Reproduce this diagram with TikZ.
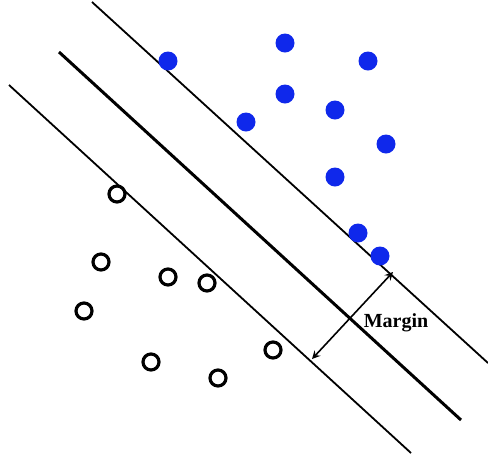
\documentclass[tikz,border=0pt]{standalone}
\usepackage{fontspec}
\setmainfont{Liberation Serif}
\usepackage{xcolor}
\definecolor{ptblue}{RGB}{15, 40, 235}

\tikzset{
	posdot/.style={circle, fill=ptblue, inner sep=0pt, minimum size=9.5pt},
	negdot/.style={circle, draw=black, line width=1.6pt, inner sep=0pt, minimum size=8pt},
}

\begin{document}
\begin{tikzpicture}[x=0.5pt, y=-0.5pt]
		\useasboundingbox (0,0) rectangle (488,462);
		
		% Hiperplanos
		\coordinate (u1) at (92,2);
		\coordinate (u2) at (488,363);
		\coordinate (h1) at (59,52);
		\coordinate (h2) at (461,420);
		\coordinate (l1) at (9,85);
		\coordinate (l2) at (411,453);
		\draw[line width=0.9pt] (u1) -- (u2);
		\draw[line width=1.5pt] (h1) -- (h2);
		\draw[line width=0.9pt] (l1) -- (l2);
		
		% Clase positiva
		\node[posdot] (p1) at (168,61) {};
		\node[posdot] (p2) at (285,43) {};
		\node[posdot] (p3) at (368,61) {};
		\node[posdot] (p4) at (285,94) {};
		\node[posdot] (p5) at (335,110) {};
		\node[posdot] (p6) at (246,122) {};
		\node[posdot] (p7) at (386,144) {};
		\node[posdot] (p8) at (335,177) {};
		\node[posdot] (p9) at (358,233) {};
		\node[posdot] (p10) at (380,256) {};
		
		% Clase negativa
		\node[negdot] (n1) at (117,194) {};
		\node[negdot] (n2) at (101,262) {};
		\node[negdot] (n3) at (168,277) {};
		\node[negdot] (n4) at (207,283) {};
		\node[negdot] (n5) at (84,311) {};
		\node[negdot] (n6) at (151,362) {};
		\node[negdot] (n7) at (273,350) {};
		\node[negdot] (n8) at (218,378) {};
		
		% Margen
		\coordinate (m1) at (393,272);
		\coordinate (m2) at (312,359);
		\draw[stealth-stealth, line width=0.8pt] (m1) -- (m2);
		\node[font=\bfseries, inner sep=0pt] (mlabel) at (396,323) {Margin};
	\end{tikzpicture}
\end{document}
